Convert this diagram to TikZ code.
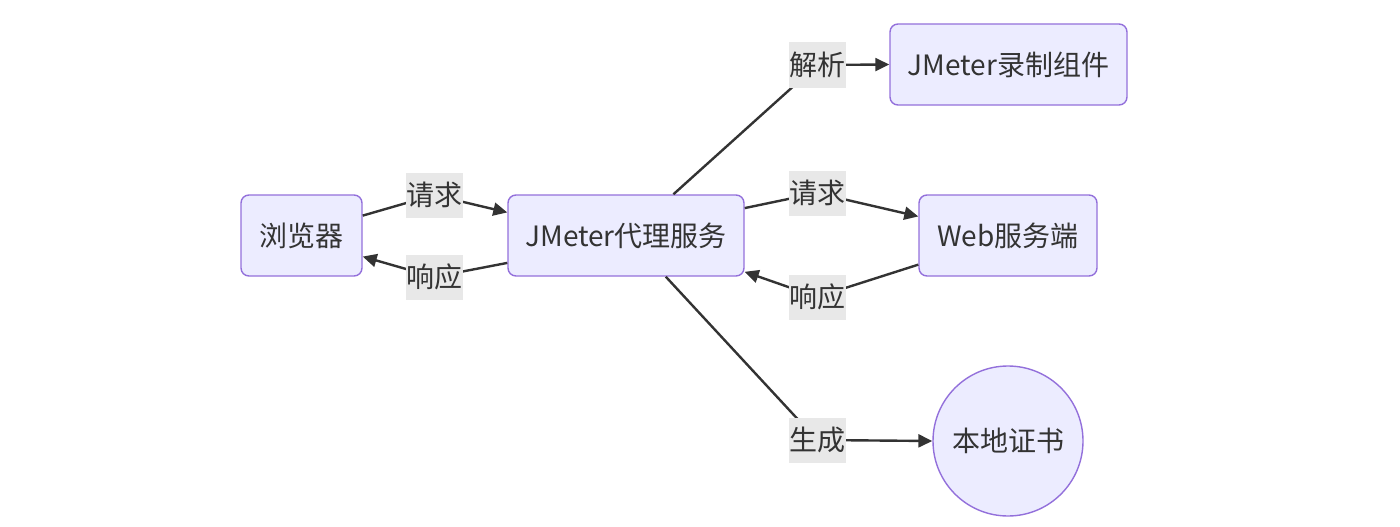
\documentclass[tikz,border=0pt]{standalone}
\usepackage{fontspec}
\setmainfont{Noto Sans CJK SC}
\usetikzlibrary{arrows.meta,shapes.geometric}
\definecolor{nodefill}{HTML}{ECECFF}
\definecolor{nodeborder}{HTML}{9370DB}
\definecolor{lblfill}{HTML}{E8E8E8}
\definecolor{ink}{HTML}{333333}
\tikzset{
  box/.style={draw=nodeborder, fill=nodefill, line width=1.4pt, rounded corners=8pt,
    minimum height=81pt, inner sep=0pt, text=ink, font=\fontsize{28}{31}\selectfont},
  circ/.style={circle, draw=nodeborder, fill=nodefill, line width=1.4pt, minimum size=150pt,
    inner sep=0pt, text=ink, font=\fontsize{28}{31}\selectfont},
  lbl/.style={fill=lblfill, inner sep=0pt, minimum width=57pt, minimum height=45pt,
    text=ink, font=\fontsize{28}{31}\selectfont},
  edge/.style={draw=ink, line width=2.4pt},
  arr/.style={edge, -{Triangle[length=14pt,width=13pt]}}
}
\begin{document}
\begin{tikzpicture}[x=1pt,y=-1pt]
\useasboundingbox (0,0) rectangle (1400,527);
% nodes
\node[box, minimum width=121pt] (br) at (301.5,235.5) {浏览器};
\node[box, minimum width=236pt] (jm) at (626,235.5) {JMeter代理服务};
\node[box, minimum width=237pt] (rec) at (1008.5,64.5) {JMeter录制组件};
\node[box, minimum width=178pt] (web) at (1008,235.5) {Web服务端};
\node[circ] (cert) at (1008,441) {本地证书};
% label positions
\coordinate (c1) at (434,195);
\coordinate (c2) at (434,277);
\coordinate (c3) at (817,65);
\coordinate (c4) at (817,193);
\coordinate (c5) at (817,297);
\coordinate (c6) at (817,440);
% connectors
\draw[arr] (br.18) -- (c1) -- (jm.169);
\draw[arr] (jm.193) -- (c2) -- (br.-19);
\draw[arr] (jm.41) -- (c3) -- (rec.west);
\draw[arr] (jm.13) -- (c4) -- (web.168);
\draw[arr] (web.198) -- (c5) -- (jm.-17);
\draw[arr] (jm.-46) -- (c6) -- (cert.west);
% labels
\node[lbl] (l1) at (c1) {请求};
\node[lbl] (l2) at (c2) {响应};
\node[lbl] (l3) at (c3) {解析};
\node[lbl] (l4) at (c4) {请求};
\node[lbl] (l5) at (c5) {响应};
\node[lbl] (l6) at (c6) {生成};
\end{tikzpicture}
\end{document}
